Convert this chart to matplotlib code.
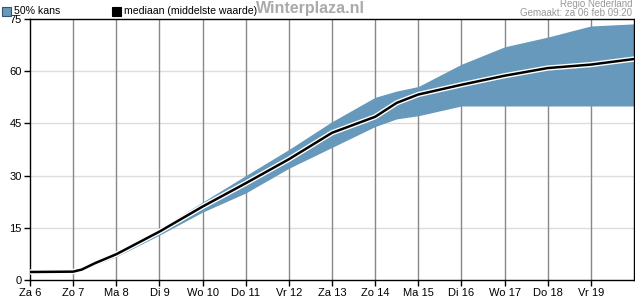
import matplotlib
matplotlib.use("Agg")
import matplotlib.pyplot as plt
from matplotlib.patches import Rectangle
import matplotlib.patheffects as pe

plt.rcParams['font.family'] = ['Liberation Sans', 'DejaVu Sans']

tick_labels = ["Za 6", "Zo 7", "Ma 8", "Di 9", "Wo 10", "Do 11", "Vr 12",
               "Za 13", "Zo 14", "Ma 15", "Di 16", "Wo 17", "Do 18", "Vr 19"]
days = [0, 1, 1.2, 1.5, 2, 3, 4, 5, 6, 7, 8, 8.5, 9, 10, 11, 12, 13, 14]
median = [2.3, 2.4, 3.0, 4.8, 7.4, 13.9, 21.1, 27.8, 34.7, 42.3, 46.9, 50.9, 53.3, 56.1, 58.7, 60.9, 61.9, 63.5]
lower = [2.1, 2.2, 2.7, 4.3, 6.7, 12.9, 19.5, 25.0, 32.1, 38.1, 44.1, 46.3, 47.2, 50.0, 50.0, 50.0, 50.0, 50.0]
upper = [2.5, 2.9, 3.6, 5.5, 8.2, 14.7, 22.4, 30.0, 37.5, 45.5, 52.5, 54.3, 55.6, 62.0, 67.0, 69.8, 73.0, 73.6]

fill_col = "#6699bb"

fig = plt.figure(figsize=(6.35, 3.0), dpi=100)
ax = fig.add_axes([30/635, 20/300, 604/635, 261/300])

ax.set_xlim(0, 14)
ax.set_ylim(0, 75)
ax.set_xticks(range(len(tick_labels)))
ax.set_xticklabels(tick_labels)
ax.set_yticks([0, 15, 30, 45, 60, 75])
ax.tick_params(axis='both', labelsize=8, length=4, width=1, color='black', pad=2)

for y in [15, 30, 45, 60]:
    ax.axhline(y, color="#dddddd", lw=1, zorder=0)
for d in range(1, 14):
    ax.axvline(d, color="#888888", lw=1, zorder=1)

ax.fill_between(days, lower, upper, color=fill_col, lw=0, zorder=2)
ax.plot(days, median, color="black", lw=1.8, zorder=3,
        path_effects=[pe.Stroke(linewidth=3.8, foreground="white"), pe.Normal()])

for s in ax.spines.values():
    s.set_color("black")
    s.set_linewidth(1)

# legend
fig.patches.append(Rectangle((2/635, 1 - 16/300), 9/635, 9/300, transform=fig.transFigure,
                             facecolor=fill_col, edgecolor="#335577", lw=0.8))
fig.text(14/635, 1 - 11.5/300, "50% kans", fontsize=7.6, va="center", ha="left")
fig.patches.append(Rectangle((112/635, 1 - 16/300), 9/635, 9/300, transform=fig.transFigure,
                             facecolor="black", edgecolor="black", lw=0.8))
fig.text(124/635, 1 - 11.5/300, "mediaan (middelste waarde)", fontsize=7.6, va="center", ha="left")

fig.text(310/635, 1 - 9/300, "Winterplaza.nl", fontsize=11.5, fontweight="bold",
         color="#aaaaaa", ha="center", va="center")
fig.text(632/635, 1 - 4/300, "Regio Nederland", fontsize=7, color="#999999", ha="right", va="center")
fig.text(632/635, 1 - 13.5/300, "Gemaakt: za 06 feb 09:20", fontsize=7, color="#999999", ha="right", va="center")

fig.savefig("out.png", dpi=100)
